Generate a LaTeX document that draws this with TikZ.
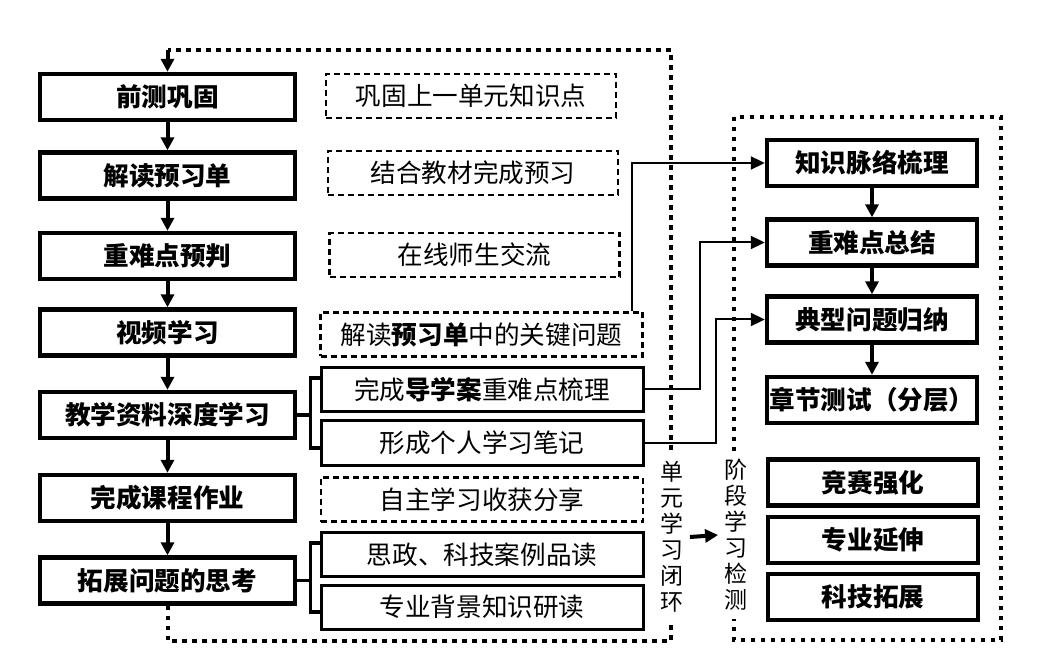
\documentclass[tikz,border=0pt]{standalone}
\usepackage{fontspec}
\newfontfamily\cjk{Noto Sans CJK SC}
\usetikzlibrary{arrows.meta}

\begin{document}
\begin{tikzpicture}[x=0.5pt,y=-0.5pt,
        every node/.style={font=\cjk\fontsize{12.8pt}{15pt}\selectfont, inner sep=0pt},
        stepbox/.style={draw, line width=2.2pt, minimum width=127.5pt, minimum height=23pt, font=\cjk\bfseries\fontsize{12.8pt}{15pt}\selectfont},
        checkbox/.style={draw, line width=2.2pt, minimum width=105pt, minimum height=23pt, font=\cjk\bfseries\fontsize{12.8pt}{15pt}\selectfont},
        notebox/.style={draw, line width=1.2pt, dash pattern=on 3pt off 2pt, minimum height=22pt},
        taskbox/.style={draw, line width=1.5pt, minimum width=161pt, minimum height=22pt},
        flow/.style={line width=2pt, -{Triangle[length=6.5pt,width=6.5pt]}},
        link/.style={line width=1pt, -{Triangle[length=7pt,width=6.5pt]}},
        fork/.style={line width=1.6pt},
        loopline/.style={line width=2pt, dash pattern=on 2.2pt off 2.8pt},
        vtext/.style={fill=white, align=center, inner xsep=3pt, inner ysep=4pt, font=\cjk\fontsize{11.5pt}{13pt}\selectfont}]
        \useasboundingbox (0,0) rectangle (1045,663);

        \node[stepbox] (b1) at (167.5,97) {前测巩固};
        \node[stepbox] (b2) at (167.5,175.5) {解读预习单};
        \node[stepbox] (b3) at (167.5,256) {重难点预判};
        \node[stepbox] (b4) at (167.5,332.5) {视频学习};
        \node[stepbox] (b5) at (167.5,415) {教学资料深度学习};
        \node[stepbox] (b6) at (167.5,498) {完成课程作业};
        \node[stepbox] (b7) at (167.5,580.5) {拓展问题的思考};

        \node[notebox, minimum width=145pt] (d1) at (471,96) {巩固上一单元知识点};
        \node[notebox, minimum width=145pt] (d2) at (473,173) {结合教材完成预习};
        \node[notebox, minimum width=145pt] (d3) at (474.5,255) {在线师生交流};
        \node[notebox, minimum width=161pt] (d4) at (481.5,334.5) {解读{\bfseries 预习单}中的关键问题};
        \node[taskbox] (s5a) at (482,389.5) {完成{\bfseries 导学案}重难点梳理};
        \node[taskbox] (s5b) at (482,443) {形成个人学习笔记};
        \node[notebox, minimum width=161pt] (d6) at (482,499.5) {自主学习收获分享};
        \node[taskbox] (s7a) at (482,554.5) {思政、科技案例品读};
        \node[taskbox] (s7b) at (482,607) {专业背景知识研读};

        \node[checkbox] (r1) at (872,163) {知识脉络梳理};
        \node[checkbox] (r2) at (872,242.5) {重难点总结};
        \node[checkbox] (r3) at (872,319.5) {典型问题归纳};
        \node[checkbox] (r4) at (872,400) {章节测试（分层）};
        \node[checkbox] (r5) at (873,482.5) {竞赛强化};
        \node[checkbox] (r6) at (873,540) {专业延伸};
        \node[checkbox] (r7) at (873,597) {科技拓展};

        \foreach \a/\b in {b1/b2,b2/b3,b3/b4,b4/b5,b5/b6,b6/b7,r1/r2,r2/r3,r3/r4}
                \draw[flow] (\a.south) -- (\b.north);

        \draw[fork] (b5.east) -- ++(13,0) coordinate (k5);
        \draw[fork] ([yshift=5.75pt]s5a.west) -| (k5) |- ([yshift=-2.5pt]s5b.west);
        \draw[fork] (b7.east) -- ++(13,0) coordinate (k7);
        \draw[fork] ([yshift=5.75pt]s7a.west) -| (k7) |- ([yshift=-2.5pt]s7b.west);

        \draw[link] ([xshift=-6pt]d4.north east) |- (r1.west);
        \draw[link] (s5a.east) -- ++(55,0) |- (r2.west);
        \draw[link] (s5b.east) -- ++(71,0) |- (r3.west);

        \draw[loopline] (b7.south) |- (671,641) |- (167.5,50) coordinate (top);
        \draw[flow] (top) -- (b1.north);
        \draw[loopline] (734,117) rectangle (1001,640);

        \node[vtext] (unit) at (672,537) {单\\元\\学\\习\\闭\\环};
        \node[vtext] (stage) at (736,535) {阶\\段\\学\\习\\检\\测};
        \draw[flow] (unit.east) -- (stage.west);
\end{tikzpicture}
\end{document}
